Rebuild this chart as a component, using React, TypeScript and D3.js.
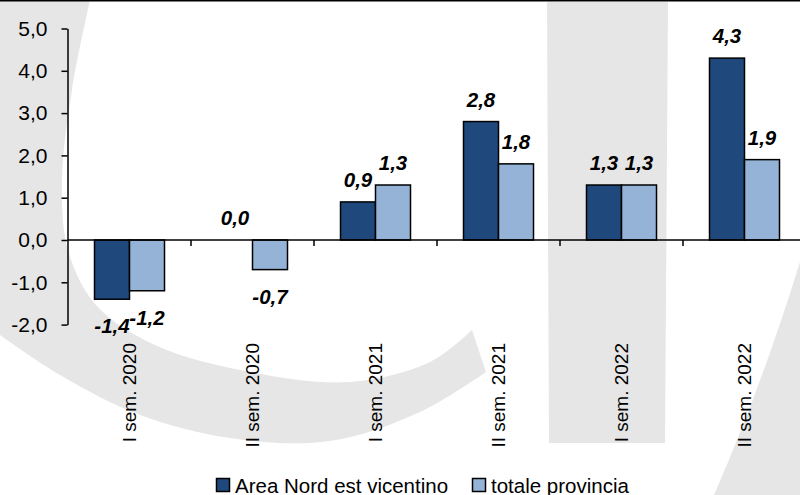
import React, { useEffect, useRef } from "react";
import * as d3 from "d3";

const categories = ["I sem. 2020", "II sem. 2020", "I sem. 2021", "II sem. 2021", "I sem. 2022", "II sem. 2022"];
const seriesNames = ["Area Nord est vicentino", "totale provincia"];
const areaValues = [-1.4, 0.0, 0.9, 2.8, 1.3, 4.3];
const provinciaValues = [-1.2, -0.7, 1.3, 1.8, 1.3, 1.9];
const yTicks = [-2, -1, 0, 1, 2, 3, 4, 5];
const colors = ["#1f497d", "#95b3d7"];

const W = 800;
const H = 495;

const fmt = (v: number) => v.toFixed(1).replace(".", ",");

export default function App() {
	const ref = useRef<SVGSVGElement>(null);

	useEffect(() => {
		const svg = d3.select(ref.current);
		svg.selectAll("*").remove();

		const font = "'Liberation Sans', Arial, sans-serif";

		// background watermark (light grey logo shapes)
		const wm = svg.append("g").attr("fill", "#e6e6e6");
		const inner: [number, number][] = [
			[90, 0], [72, 90], [62, 180], [68, 250], [96, 305], [155, 345], [250, 372],
			[350, 382], [430, 362], [472, 330]
		];
		const outer: [number, number][] = [
			[486, 372], [420, 412], [330, 441], [230, 438], [140, 415], [60, 375], [0, 335]
		];
		const smooth = d3.line().curve(d3.curveCatmullRom);
		wm.append("path").attr("d",
			`M0,0 L${smooth(inner)!.slice(1)} L${smooth(outer)!.slice(1)} Z`);
		wm.append("path").attr("d", "M547,2 L668,2 L665,443 L549,443 Z");
		wm.append("path").attr("d", "M800,262 Q762,385 714,495 L800,495 Z");

		// top border line
		svg.append("rect").attr("x", 0).attr("y", 0).attr("width", W).attr("height", 1.5).attr("fill", "#000");

		const x0 = d3.scaleBand().domain(categories).range([68, 806]).padding(0);
		const bw = x0.bandwidth();
		const x1 = d3.scaleBand().domain(seriesNames).range([bw / 2 - 35, bw / 2 + 35]).padding(0);
		const y = d3.scaleLinear().domain([-2, 5]).range([324.6, 28.5]);

		const rows = categories.map((c, i) => ({
			cat: c,
			vals: [areaValues[i], provinciaValues[i]]
		}));

		// bars
		const groups = svg.selectAll("g.grp").data(rows).enter().append("g")
			.attr("class", "grp")
			.attr("transform", (d) => `translate(${x0(d.cat)},0)`);

		groups.selectAll("rect").data((d) => d.vals.map((v, k) => ({ v, k })))
			.enter().append("rect")
			.filter((d) => d.v !== 0)
			.attr("x", (d) => x1(seriesNames[d.k])!)
			.attr("width", x1.bandwidth())
			.attr("y", (d) => y(Math.max(0, d.v)))
			.attr("height", (d) => Math.abs(y(d.v) - y(0)))
			.attr("fill", (d) => colors[d.k])
			.attr("stroke", "#000")
			.attr("stroke-width", 1.5);

		// data labels
		groups.selectAll("text").data((d) => d.vals.map((v, k) => ({ v, k })))
			.enter().append("text")
			.attr("x", (d) => x1(seriesNames[d.k])! + x1.bandwidth() / 2)
			.attr("y", (d) => (d.v >= 0 ? y(d.v) - 15 : y(d.v) + 34))
			.attr("text-anchor", "middle")
			.attr("font-family", font)
			.attr("font-size", 20.5)
			.attr("font-weight", "bold")
			.attr("font-style", "italic")
			.attr("fill", "#000")
			.text((d) => fmt(d.v));

		// y axis
		const yAxis = svg.append("g")
			.attr("transform", "translate(67.5,0)")
			.call(d3.axisLeft(y).tickValues(yTicks).tickSize(6).tickSizeOuter(0).tickPadding(14).tickFormat((d) => fmt(+d)));
		yAxis.select(".domain").attr("stroke", "#000").attr("stroke-width", 1.5);
		yAxis.selectAll(".tick line").attr("stroke", "#000").attr("stroke-width", 1.5);
		yAxis.selectAll(".tick text").attr("font-family", font).attr("font-size", 21).attr("fill", "#000");

		// x axis at zero
		svg.append("line")
			.attr("x1", 67.5).attr("x2", W).attr("y1", y(0)).attr("y2", y(0))
			.attr("stroke", "#000").attr("stroke-width", 1.5);
		svg.selectAll("line.xtick").data(categories.slice(1)).enter().append("line")
			.attr("class", "xtick")
			.attr("x1", (d) => x0(d)!).attr("x2", (d) => x0(d)!)
			.attr("y1", y(0)).attr("y2", y(0) + 6)
			.attr("stroke", "#000").attr("stroke-width", 1.5);

		// category labels (rotated)
		svg.selectAll("text.cat").data(categories).enter().append("text")
			.attr("class", "cat")
			.attr("transform", (d) => `translate(${x0(d)! + bw / 2},343) rotate(-90)`)
			.attr("dy", "0.35em")
			.attr("text-anchor", "end")
			.attr("font-family", font)
			.attr("font-size", 19)
			.attr("fill", "#000")
			.text((d) => d);

		// legend
		const legendX = [216, 472];
		const leg = svg.selectAll("g.leg").data(seriesNames).enter().append("g")
			.attr("class", "leg")
			.attr("transform", (d, i) => `translate(${legendX[i]},478)`);
		leg.append("rect").attr("x", 0.5).attr("y", 0.5).attr("width", 13).attr("height", 13)
			.attr("fill", (d, i) => colors[i]).attr("stroke", "#000").attr("stroke-width", 1.5);
		leg.append("text").attr("x", 19).attr("y", 14.5)
			.attr("font-family", font).attr("font-size", 20.5).attr("fill", "#000")
			.text((d) => d);
	}, []);

	return (
		<div style={{ position: "absolute", left: 0, top: 0 }}>
			<svg ref={ref} width={W} height={H} style={{ display: "block", background: "#fff" }}></svg>
		</div>
	);
}
